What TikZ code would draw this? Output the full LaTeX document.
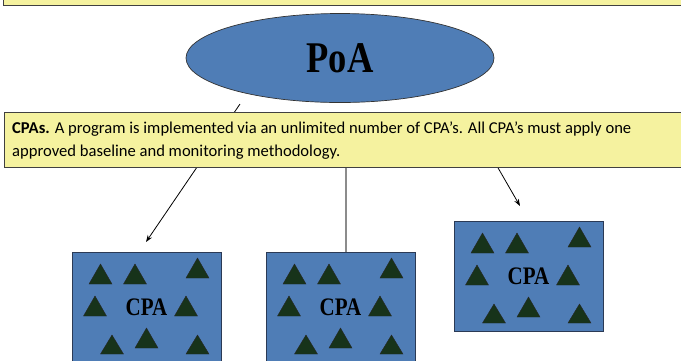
\documentclass[tikz,border=0pt]{standalone}
\usepackage{fontspec}
\setmainfont{Carlito}
\newfontfamily\serifb{Liberation Serif}
\usetikzlibrary{arrows.meta,shapes.geometric}
\definecolor{yelfill}{HTML}{F5F29F}
\definecolor{bluefill}{HTML}{4F7DB6}
\definecolor{boxline}{HTML}{2B3A55}
\definecolor{trifill}{HTML}{17331A}
\definecolor{midgray}{HTML}{8C8C8C}
\newcommand\tri[3]{\filldraw[trishape] (#1-11.5,#3) -- (#1,#2) -- (#1+11.5,#3) -- cycle;}
\newcommand\cpabox[3]{%
  \node[cpabox, anchor=north west] (#1) at (#2,#3) {};
  \begin{scope}[shift={(#2,#3)}]
    \tri{28.5}{12}{32}
    \tri{63}{12}{32}
    \tri{125.5}{6}{26}
    \tri{23}{44}{64}
    \tri{114}{44}{64}
    \tri{40}{83}{102}
    \tri{74.5}{76}{96}
    \tri{125.5}{83}{102}
    \node[cpalabel] (#1-label) at (74.5,55) {\scalebox{1}[1.2]{CPA}};
  \end{scope}
}
\begin{document}
\begin{tikzpicture}[x=1pt,y=-1pt,
  yellowbox/.style={draw=black!75, line width=0.9pt, fill=yelfill, inner sep=0pt},
  cpabox/.style={draw=boxline, line width=0.9pt, fill=bluefill, minimum width=149pt, minimum height=110pt, inner sep=0pt},
  trishape/.style={fill=trifill, draw=black!85, line width=0.4pt},
  cpalabel/.style={font=\serifb\bfseries\fontsize{21}{24}\selectfont, inner sep=0pt},
  conn/.style={draw=black, line width=0.8pt},
  tip/.style={-{Stealth[length=7pt,width=5pt]}},
  notetext/.style={font=\fontsize{16.6}{19}\selectfont, anchor=base west, inner sep=0pt}]
\useasboundingbox (0,0) rectangle (681,360);
\clip (0,0) rectangle (681,360);
% top note box
\node[yellowbox, anchor=south west, minimum width=690pt, minimum height=30pt] (topnote) at (3,6) {};
% boxes
\cpabox{cpa1}{72}{252}
\cpabox{cpa2}{266}{252}
\cpabox{cpa3}{454}{221}
% connectors
\coordinate (l0) at (240,104);
\coordinate (l1) at (146,242);
\draw[conn,tip] (l0) -- (l1);
\coordinate (r0) at (482,140);
\coordinate (r1) at (520,206);
\draw[conn,tip] (r0) -- (r1);
\coordinate (m0) at (346,150);
\draw[draw=midgray, line width=1.6pt] (m0) -- (m0 |- cpa2.north);
% ellipse
\node[ellipse, draw=black!80, line width=0.7pt, fill=bluefill, minimum width=308pt, minimum height=89pt, inner sep=0pt] (poa) at (340,58) {};
\node[font=\serifb\bfseries\fontsize{36.5}{40}\selectfont, inner sep=0pt] (poalabel) at (poa.center) {\scalebox{1}[1.2]{PoA}};
% note box
\node[yellowbox, anchor=north west, minimum width=690pt, minimum height=55pt] (note) at (4,112) {};
\node[notetext] (noteline1) at (12,133) {\textbf{CPAs.} A program is implemented via an unlimited number of CPA’s. All CPA’s must apply one};
\node[notetext] (noteline2) at (12,156) {approved baseline and monitoring methodology.};
\end{tikzpicture}
\end{document}
